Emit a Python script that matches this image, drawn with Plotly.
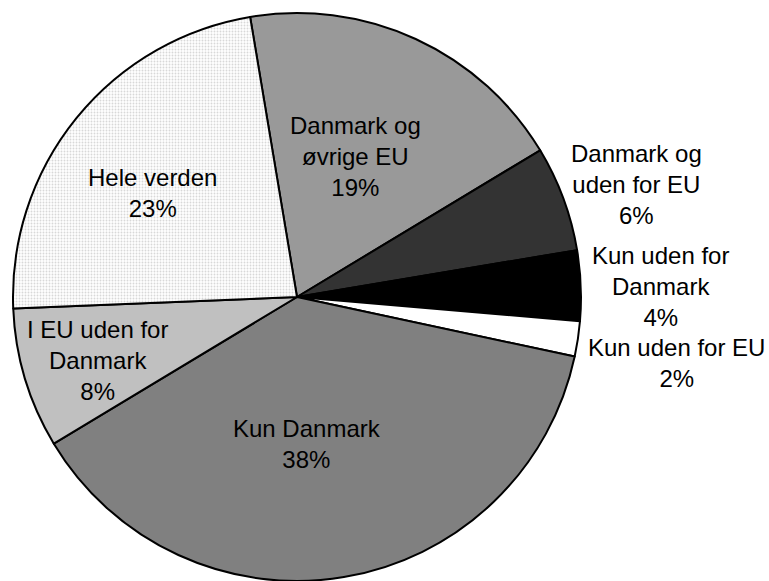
import plotly.graph_objects as go

# Shares of companies by market area (clockwise from the top)
labels = ["Danmark og<br>øvrige EU", "Danmark og<br>uden for EU", "Kun uden for<br>Danmark",
          "Kun uden for EU", "Kun Danmark", "I EU uden for<br>Danmark", "Hele verden"]
values = [19, 6, 4, 2, 38, 8, 23]
colors = ["#999999", "#333333", "#000000", "#ffffff", "#808080", "#c0c0c0", "#ffffff"]
patterns = ["", "", "", "", "", "", "."]

W, H = 769, 581
CX, CY, R = 297, 297, 284

# Label anchor points in pixels (text centre)
label_px = [(355, 156), (636, 185), (660, 287), (676, 363), (307, 444), (97, 360), (152, 193)]

fig = go.Figure()
fig.add_trace(go.Pie(
    values=values,
    labels=[l.replace("<br>", " ") for l in labels],
    sort=False,
    direction="clockwise",
    rotation=-9.5,
    textinfo="none",
    hoverinfo="skip",
    showlegend=False,
    marker=dict(
        colors=colors,
        line=dict(color="#000000", width=2),
        pattern=dict(shape=patterns, fgcolor="#d8d8d8", bgcolor="#ffffff",
                     size=3, solidity=0.3),
    ),
    domain=dict(x=[(CX - R) / W, (CX + R) / W], y=[1 - (CY + R) / H, 1 - (CY - R) / H]),
))

for lab, v, (px, py) in zip(labels, values, label_px):
    fig.add_annotation(
        x=px / W, y=1 - py / H, xref="paper", yref="paper",
        text=f"{lab}<br>{v}%", showarrow=False,
        font=dict(family="Liberation Sans, Arial, sans-serif", size=24, color="#000000"),
        align="center", xanchor="center", yanchor="middle",
    )

fig.update_layout(
    width=W, height=H,
    margin=dict(l=0, r=0, t=0, b=0),
    paper_bgcolor="#ffffff", plot_bgcolor="#ffffff",
)

fig.write_html("out.html")
